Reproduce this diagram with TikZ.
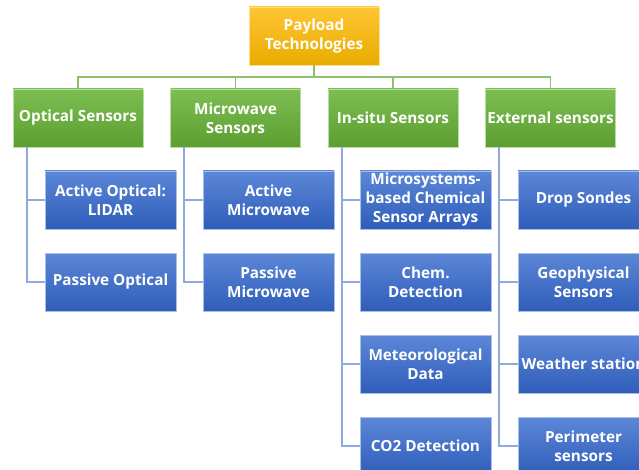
\documentclass[tikz,border=0pt]{standalone}
\usepackage{fontspec}
\setmainfont{Open Sans}
\tikzset{
  box/.style={minimum width=131pt, minimum height=58pt, inner sep=2pt, align=center,
    font=\fontsize{15.3}{19}\selectfont\bfseries, text=white, line width=0.8pt},
  rootbox/.style={box, minimum width=130pt, top color=orangeT, bottom color=orangeB, draw=orangeE},
  catbox/.style={box, minimum width=130pt, top color=greenT, bottom color=greenB, draw=greenE},
  leafbox/.style={box, top color=blueT, bottom color=blueB, draw=blueE},
  gline/.style={draw=greenL, line width=1.4pt},
  bline/.style={draw=blueL, line width=1.4pt}
}
\definecolor{orangeT}{HTML}{FFC533}
\definecolor{orangeB}{HTML}{E8AC00}
\definecolor{orangeE}{HTML}{FFE08A}
\definecolor{greenT}{HTML}{7DBE52}
\definecolor{greenB}{HTML}{5D9E31}
\definecolor{greenE}{HTML}{B9DCA3}
\definecolor{blueT}{HTML}{5C87D8}
\definecolor{blueB}{HTML}{2F5DB9}
\definecolor{blueE}{HTML}{A9BFEA}
\definecolor{greenL}{HTML}{8DC26B}
\definecolor{blueL}{HTML}{90AADE}
\begin{document}
\begin{tikzpicture}[x=1pt,y=-1pt]
\clip (0,0) rectangle (639,470);
\fill[white] (0,0) rectangle (639,470);

% root
\node[rootbox] (top) at (314,36) {Payload\\Technologies};

% categories
\node[catbox] (g1) at (78,118) {Optical Sensors};
\node[catbox] (g2) at (235.5,118) {Microwave\\Sensors};
\node[catbox] (g3) at (393,118) {In-situ Sensors};
\node[catbox] (g4) at (550.5,118) {External sensors};

% leaves
\node[leafbox] (a1) at (110.5,200) {Active Optical:\\LIDAR};
\node[leafbox] (a2) at (110.5,282) {Passive Optical};
\node[leafbox] (m1) at (268.5,200) {Active\\Microwave};
\node[leafbox] (m2) at (268.5,282) {Passive\\Microwave};
\node[leafbox] (i1) at (425.5,200) {Microsystems-\\based Chemical\\Sensor Arrays};
\node[leafbox] (i2) at (425.5,282) {Chem.\\Detection};
\node[leafbox] (i3) at (425.5,364) {Meteorological\\Data};
\node[leafbox] (i4) at (425.5,446) {CO2 Detection};
\node[leafbox] (e1) at (583.5,200) {Drop Sondes};
\node[leafbox] (e2) at (583.5,282) {Geophysical\\Sensors};
\node[leafbox] (e3) at (583.5,364) {Weather station};
\node[leafbox] (e4) at (583.5,446) {Perimeter\\sensors};

% root to categories
\coordinate (bus) at (314,77);
\draw[gline] (top.south) -- (bus);
\draw[gline] (g1.north) |- (bus) -| (g4.north);
\draw[gline] (g2.north) -- (g2.north |- bus);
\draw[gline] (g3.north) -- (g3.north |- bus);

% categories to leaves
\coordinate (t1) at ([xshift=-51pt]g1.south);
\coordinate (t2) at ([xshift=-51.5pt]g2.south);
\coordinate (t3) at ([xshift=-51pt]g3.south);
\coordinate (t4) at ([xshift=-51.5pt]g4.south);
\draw[bline] (t1) |- (a1.west);
\draw[bline] (t1) |- (a2.west);
\draw[bline] (t2) |- (m1.west);
\draw[bline] (t2) |- (m2.west);
\draw[bline] (t3) |- (i1.west);
\draw[bline] (t3) |- (i2.west);
\draw[bline] (t3) |- (i3.west);
\draw[bline] (t3) |- (i4.west);
\draw[bline] (t4) |- (e1.west);
\draw[bline] (t4) |- (e2.west);
\draw[bline] (t4) |- (e3.west);
\draw[bline] (t4) |- (e4.west);
\end{tikzpicture}
\end{document}
